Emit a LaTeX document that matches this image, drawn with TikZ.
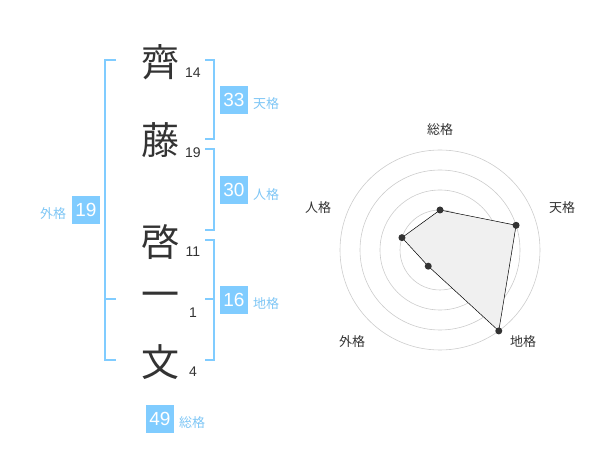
\documentclass[tikz,border=0pt]{standalone}
\usepackage{fontspec}
\setmainfont{Liberation Sans}
\newfontfamily\jp{Noto Sans CJK JP}
\definecolor{sky}{HTML}{80CCFF}
\definecolor{skytxt}{HTML}{7EC6F5}
\definecolor{ink}{HTML}{333333}
\begin{document}
\begin{tikzpicture}[x=1pt,y=-1pt,
  kanji/.style={font=\jp\fontsize{38}{38}\selectfont, text=ink, inner sep=0pt},
  strokes/.style={font=\fontsize{14}{14}\selectfont, text=ink, inner sep=0pt},
  bracket/.style={draw=sky, line width=1.6pt},
  valbox/.style={fill=sky, text=white, font=\fontsize{19}{19}\selectfont, minimum width=28pt, minimum height=28pt, inner sep=0pt},
  kaku/.style={font=\jp\fontsize{13}{13}\selectfont, text=skytxt, inner sep=0pt},
  rlabel/.style={font=\jp\fontsize{13}{13}\selectfont, text=ink, inner sep=0pt},
  ring/.style={draw=black!20, line width=0.6pt},
  vdot/.style={circle, fill=ink, inner sep=0pt, minimum size=7pt}]
\useasboundingbox (0,0) rectangle (600,470);
% characters
\node[kanji] (k1) at (160,62) {齊};
\node[kanji] (k2) at (160,140) {藤};
\node[kanji] (k3) at (160,242) {啓};
\node[kanji] (k4) at (160,300) {一};
\node[kanji] (k5) at (160,362) {文};
\node[strokes] (s1) at (193,73) {14};
\node[strokes] (s2) at (193,153) {19};
\node[strokes] (s3) at (193,252) {11};
\node[strokes] (s4) at (193,313) {1};
\node[strokes] (s5) at (193,372) {4};
% left bracket
\draw[bracket] (116,60) -- (105,60) -- (105,360) -- (116,360);
\draw[bracket] (105,299) -- (116,299);
% right brackets
\draw[bracket] (205,60) -- (214,60) -- (214,139) -- (205,139);
\draw[bracket] (205,149) -- (214,149) -- (214,230) -- (205,230);
\draw[bracket] (205,240) -- (214,240) -- (214,360) -- (205,360);
\draw[bracket] (205,299) -- (214,299);
% boxes
\node[valbox] (b1) at (234,100) {33};
\node[kaku] (l1) at (266,104) {天格};
\node[valbox] (b2) at (234,190) {30};
\node[kaku] (l2) at (266,195) {人格};
\node[valbox] (b3) at (234,300) {16};
\node[kaku] (l3) at (266,304) {地格};
\node[valbox] (b4) at (86,210) {19};
\node[kaku] (l4) at (53,214) {外格};
\node[valbox] (b5) at (160,419) {49};
\node[kaku] (l5) at (192,423) {総格};
% radar
\begin{scope}[shift={(440,250)}, y=1pt]
  \foreach \r in {20,40,60,80,100} \draw[ring] (0,0) circle (\r);
  \fill[black!20] (0,0) circle (3.2);
  \coordinate (p1) at (90:40);
  \coordinate (p2) at (18:80);
  \coordinate (p3) at (-54:100);
  \coordinate (p4) at (-126:20);
  \coordinate (p5) at (162:40);
  \filldraw[fill=black!6, draw=black, line width=0.5pt] (p1) -- (p2) -- (p3) -- (p4) -- (p5) -- cycle;
  \foreach \p in {p1,p2,p3,p4,p5} \node[vdot] at (\p) {};
  \node[rlabel] (r1) at (0,120) {総格};
  \node[rlabel] (r2) at (122,42) {天格};
  \node[rlabel] (r3) at (83,-92) {地格};
  \node[rlabel] (r4) at (-88,-92) {外格};
  \node[rlabel] (r5) at (-122,42) {人格};
\end{scope}
\end{tikzpicture}
\end{document}
